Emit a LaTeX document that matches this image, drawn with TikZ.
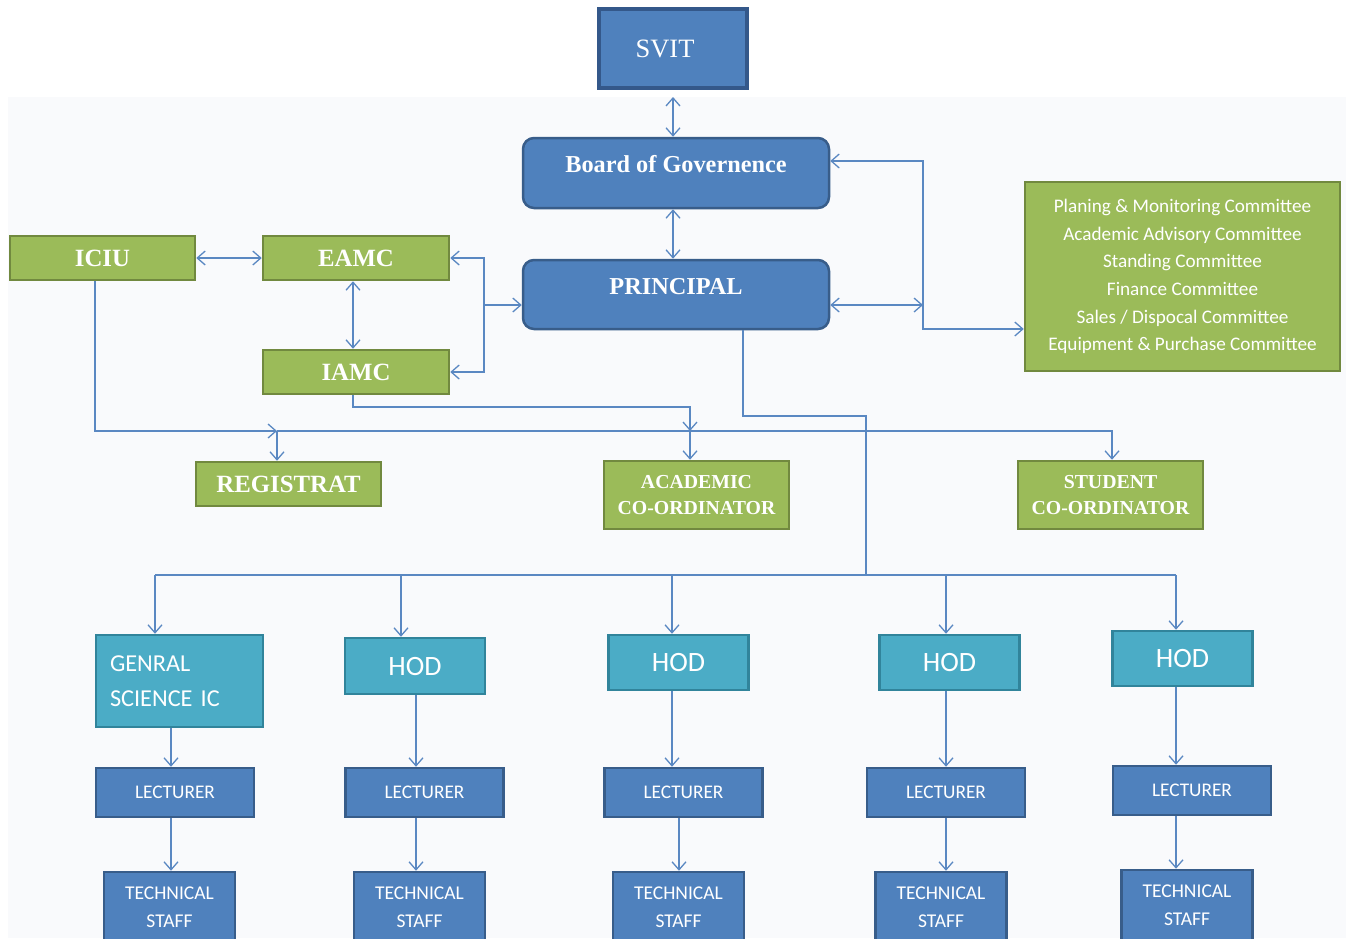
\documentclass[tikz,border=0pt]{standalone}
\usepackage{fontspec}
\setmainfont{Liberation Serif}
\newfontfamily\calfont{Carlito}
\usetikzlibrary{arrows.meta}
\definecolor{bfill}{HTML}{4F81BD}
\definecolor{bdraw}{HTML}{385D8A}
\definecolor{svitb}{HTML}{34588A}
\definecolor{gfill}{HTML}{9BBB59}
\definecolor{gdraw}{HTML}{71893F}
\definecolor{tfill}{HTML}{4BACC6}
\definecolor{tdraw}{HTML}{31849B}
\definecolor{linec}{HTML}{5A88C2}
\definecolor{pale}{HTML}{F9FAFC}
\begin{document}
\begin{tikzpicture}[x=1pt,y=-1pt,
  >={Straight Barb[length=8pt,width=14pt]},
  conn/.style={draw=linec,line width=1.3pt},
  box/.style={rectangle,inner sep=0pt,text=white,align=center},
  bluebox/.style={box,fill=bfill,draw=bdraw,line width=2.5pt},
  greenbox/.style={box,fill=gfill,draw=gdraw,line width=2.5pt},
  tealbox/.style={box,fill=tfill,draw=tdraw,line width=2.5pt},
  headbox/.style={bluebox,rounded corners=11pt,minimum width=306pt},
  serifbig/.style={font=\fontsize{24.3}{28}\selectfont\bfseries},
  greenlabel/.style={font=\fontsize{24.8}{28}\selectfont\bfseries},
  coord/.style={font=\fontsize{19.8}{26}\selectfont\bfseries},
  hodbox/.style={tealbox,minimum width=140pt,minimum height=55pt,font=\calfont\fontsize{28}{30}\selectfont},
  lecbox/.style={bluebox,minimum width=158pt,minimum height=49pt,font=\calfont\fontsize{19.3}{22}\selectfont},
  tsbox/.style={bluebox,minimum width=131pt,minimum height=70pt,font=\calfont\fontsize{19.5}{28}\selectfont}
]
\useasboundingbox (0,0) rectangle (1346,938);
\clip (0,0) rectangle (1346,938);
\fill[white] (0,0) rectangle (1346,938);
\fill[pale] (8,97) rectangle (1346,938);

% top
\node[bluebox,draw=svitb,line width=4pt,minimum width=148pt,minimum height=79pt,
  font=\fontsize{26.5}{30}\selectfont] (svit) at (673,48.5) {SVIT\hspace{16pt}};
\node[headbox,serifbig,text height=34pt,text depth=36pt] (bog) at (676,173) {Board of Governence};
\node[headbox,serifbig,text height=34pt,text depth=35pt] (prin) at (676,294.5) {PRINCIPAL};

% green boxes
\node[greenbox,greenlabel,minimum width=185pt,minimum height=44pt] (iciu) at (102.5,258) {ICIU};
\node[greenbox,greenlabel,minimum width=186pt,minimum height=44pt] (eamc) at (356,258) {EAMC};
\node[greenbox,greenlabel,minimum width=186pt,minimum height=44pt] (iamc) at (356,372) {IAMC};
\node[greenbox,greenlabel,minimum width=185pt,minimum height=44pt] (reg) at (288.5,484) {REGISTRAT};
\node[greenbox,coord,minimum width=185pt,minimum height=68pt] (acad) at (696.5,495) {ACADEMIC\\CO-ORDINATOR};
\node[greenbox,coord,minimum width=185pt,minimum height=68pt] (stu) at (1110.5,495) {STUDENT\\CO-ORDINATOR};
\node[greenbox,minimum width=315pt,minimum height=189pt,
  font=\calfont\fontsize{19.2}{27.6}\selectfont] (cm) at (1182.5,276.5)
  {Planing \& Monitoring Committee\\Academic Advisory Committee\\Standing Committee\\Finance Committee\\Sales / Dispocal Committee\\Equipment \& Purchase Committee};

% departments
\node[tealbox,minimum width=167pt,minimum height=92pt,align=left,text width=139pt,inner xsep=14pt,
  font=\calfont\fontsize{24.3}{35}\selectfont] (gs) at (179.5,681) {GENRAL\\SCIENCE IC};
\node[hodbox,minimum height=56pt] (hod1) at (415,666) {HOD};
\node[hodbox] (hod2) at (678.5,662.5) {HOD};
\node[hodbox] (hod3) at (949.5,662.5) {HOD};
\node[hodbox] (hod4) at (1182.5,658.5) {HOD};

\node[lecbox] (lec1) at (175,792.5) {LECTURER};
\node[lecbox] (lec2) at (424.5,792.5) {LECTURER};
\node[lecbox] (lec3) at (683.5,792.5) {LECTURER};
\node[lecbox] (lec4) at (946,792.5) {LECTURER};
\node[lecbox] (lec5) at (1192,790.5) {LECTURER};

\node[tsbox] (ts1) at (169.5,907) {TECHNICAL\\STAFF};
\node[tsbox] (ts2) at (419.5,907) {TECHNICAL\\STAFF};
\node[tsbox] (ts3) at (678.5,907) {TECHNICAL\\STAFF};
\node[tsbox] (ts4) at (941,907) {TECHNICAL\\STAFF};
\node[tsbox] (ts5) at (1187,905) {TECHNICAL\\STAFF};

% junction coordinates
\coordinate (ja) at (923,161);
\coordinate (jp) at (923,305);
\coordinate (jb) at (923,329);
\coordinate (jl) at (484,305);
\coordinate (h1) at (95,431);
\coordinate (hr) at (277,431);
\coordinate (ha) at (690,431);
\coordinate (hb) at (690,407);
\coordinate (hs) at (1112,431);
\coordinate (pa) at (743,416);
\coordinate (pb) at (866,416);
\coordinate (pc) at (866,575);
\coordinate (d1) at (155,575);
\coordinate (d2) at (401,575);
\coordinate (d3) at (672,575);
\coordinate (d4) at (946,575);
\coordinate (d5) at (1176,575);
\coordinate (c1) at (171,0);
\coordinate (c2) at (416,0);
\coordinate (c3) at (672,0);
\coordinate (c3b) at (679,0);
\coordinate (c4) at (946,0);
\coordinate (c5) at (1176,0);
\coordinate (ce) at (353,0);

% connectors
\draw[conn,<->,shorten <=7pt] (svit.south) -- (svit.south |- bog.north);
\draw[conn,<->] (bog.south -| svit) -- (prin.north -| svit);
\draw[conn,<->] (bog.east |- ja) -- (ja) -- (jb) -- (cm.west |- jb);
\draw[conn,<->] (prin.east |- jp) -- (jp);
\draw[conn,<->] (iciu.east) -- (eamc.west);
\draw[conn,<->] (eamc.south -| ce) -- (iamc.north -| ce);
\draw[conn,<->] (eamc.east) -- (eamc.east -| jl) -- (iamc.east -| jl) -- (iamc.east);
\draw[conn,->] (jl) -- (prin.west |- jl);
\draw[conn,->] (iciu.south -| h1) -- (h1) -- (hr);
\draw[conn,->] (hr) -- (reg.north -| hr);
\draw[conn,->] (hr) -- (hs) -- (hs |- stu.north);
\draw[conn,->] (iamc.south -| ce) |- (hb) -- (ha);
\draw[conn,->] (ha) -- (ha |- acad.north);
\draw[conn] (prin.south -| pa) -- (pa) -- (pb) -- (pc);
\draw[conn] (d1) -- (d5);
\draw[conn,->] (d1) -- (d1 |- gs.north);
\draw[conn,->] (d2) -- (d2 |- hod1.north);
\draw[conn,->] (d3) -- (d3 |- hod2.north);
\draw[conn,->] (d4) -- (d4 |- hod3.north);
\draw[conn,->] (d5) -- (d5 |- hod4.north);
\draw[conn,->] (gs.south -| c1) -- (lec1.north -| c1);
\draw[conn,->] (hod1.south -| c2) -- (lec2.north -| c2);
\draw[conn,->] (hod2.south -| c3) -- (lec3.north -| c3);
\draw[conn,->] (hod3.south -| c4) -- (lec4.north -| c4);
\draw[conn,->] (hod4.south -| c5) -- (lec5.north -| c5);
\draw[conn,->] (lec1.south -| c1) -- (ts1.north -| c1);
\draw[conn,->] (lec2.south -| c2) -- (ts2.north -| c2);
\draw[conn,->] (lec3.south -| c3b) -- (ts3.north -| c3b);
\draw[conn,->] (lec4.south -| c4) -- (ts4.north -| c4);
\draw[conn,->] (lec5.south -| c5) -- (ts5.north -| c5);
\end{tikzpicture}
\end{document}
